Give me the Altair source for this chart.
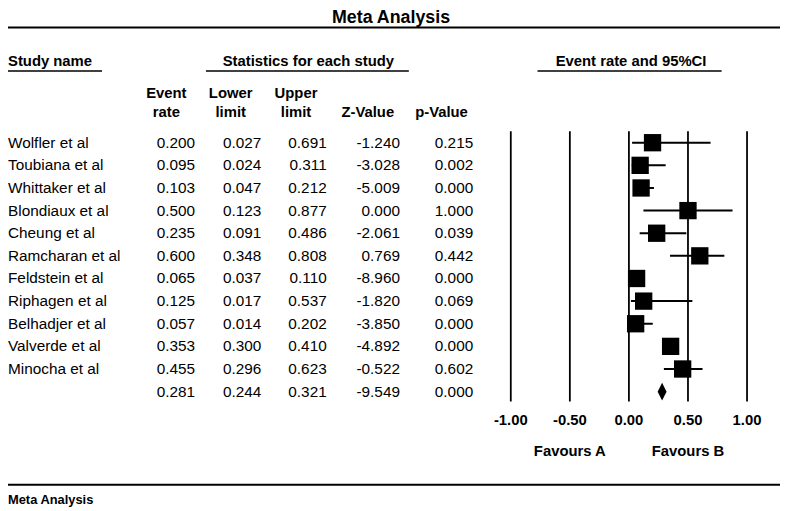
import altair as alt
import pandas as pd

# ---------------- data ----------------
studies = ["Wolfler et al", "Toubiana et al", "Whittaker et al", "Blondiaux et al",
           "Cheung et al", "Ramcharan et al", "Feldstein et al", "Riphagen et al",
           "Belhadjer et al", "Valverde et al", "Minocha et al"]
event_rate = [0.200, 0.095, 0.103, 0.500, 0.235, 0.600, 0.065, 0.125, 0.057, 0.353, 0.455]
lower_limit = [0.027, 0.024, 0.047, 0.123, 0.091, 0.348, 0.037, 0.017, 0.014, 0.300, 0.296]
upper_limit = [0.691, 0.311, 0.212, 0.877, 0.486, 0.808, 0.110, 0.537, 0.202, 0.410, 0.623]
z_value = [-1.240, -3.028, -5.009, 0.000, -2.061, 0.769, -8.960, -1.820, -3.850, -4.892, -0.522]
p_value = [0.215, 0.002, 0.000, 1.000, 0.039, 0.442, 0.000, 0.069, 0.000, 0.000, 0.602]

summary_rate = 0.281
summary_lower = 0.244
summary_upper = 0.321
summary_z = -9.549
summary_p = 0.000

tick_values = [-1.0, -0.5, 0.0, 0.5, 1.0]
favours_labels = ["Favours A", "Favours B"]
favours_at = [-0.5, 0.5]

title_text = "Meta Analysis"
footer_text = "Meta Analysis"
group_headers = ["Study name", "Statistics for each study", "Event rate and 95%CI"]
col_headers_line1 = ["Event", "Lower", "Upper", "", ""]
col_headers_line2 = ["rate", "limit", "limit", "Z-Value", "p-Value"]

# ---------------- tables ----------------
n = len(studies)
table = pd.DataFrame({
    "row": list(range(n + 1)),
    "name": studies + [""],
    "rate": event_rate + [summary_rate],
    "lower": lower_limit + [summary_lower],
    "upper": upper_limit + [summary_upper],
    "z": z_value + [summary_z],
    "p": p_value + [summary_p],
})
for c in ["rate", "lower", "upper", "z", "p"]:
    table[c + "_s"] = [f"{v:.3f}" for v in table[c]]
study_df = table.iloc[:n]
summary_df = table.iloc[n:]

ticks_df = pd.DataFrame({"t": tick_values, "lab": [f"{v:.2f}" for v in tick_values]})
fav_df = pd.DataFrame({"t": favours_at, "lab": favours_labels})
one = pd.DataFrame({"k": [0]})

FONT = "Liberation Sans, Arial, Helvetica, sans-serif"
XS = alt.Scale(domain=[-1, 1], range=[508, 746.7])
YS = alt.Scale(domain=[0, 11], range=[133.5, 385.0])
Y = alt.Y("row:Q", scale=YS, axis=None)

# ---------------- forest plot ----------------
grid = alt.Chart(ticks_df).mark_rule(color="black", strokeWidth=1.8).encode(
    x=alt.X("t:Q", scale=XS, axis=None), y=alt.value(122), y2=alt.value(395))
tick_text = alt.Chart(ticks_df).mark_text(font=FONT, fontSize=15, fontWeight="bold",
                                          baseline="middle", align="center", color="black").encode(
    x=alt.X("t:Q", scale=XS, axis=None), y=alt.value(414), text="lab:N")
fav_text = alt.Chart(fav_df).mark_text(font=FONT, fontSize=15, fontWeight="bold",
                                       baseline="middle", align="center", color="black").encode(
    x=alt.X("t:Q", scale=XS, axis=None), y=alt.value(445), text="lab:N")
whisk = alt.Chart(study_df).mark_rule(color="black", strokeWidth=2).encode(
    x=alt.X("lower:Q", scale=XS, axis=None), x2="upper:Q", y=Y)
squares = alt.Chart(study_df).mark_square(size=306, color="black", opacity=1).encode(
    x=alt.X("rate:Q", scale=XS, axis=None), y=Y)
diamond = alt.Chart(summary_df).mark_point(shape="M0,-1L0.5,0L0,1L-0.5,0Z", size=324,
                                           filled=True, color="black", opacity=1).encode(
    x=alt.X("rate:Q", scale=XS, axis=None), y=Y)

# ---------------- table text ----------------
def col_text(field, xpos, align="right"):
    return alt.Chart(table).mark_text(font=FONT, fontSize=15.5, baseline="middle",
                                      align=align, color="black").encode(
        x=alt.value(xpos), y=Y, text=f"{field}:N")

names = col_text("name", 0, "left")
c_rate = col_text("rate_s", 189)
c_low = col_text("lower_s", 256)
c_up = col_text("upper_s", 322)
c_z = col_text("z_s", 396)
c_p = col_text("p_s", 470)

# ---------------- headers ----------------
def label(txt, x, y, size=15, align="center", weight="bold"):
    return alt.Chart(one).mark_text(font=FONT, fontSize=size, fontWeight=weight,
                                    baseline="middle", align=align, color="black").encode(
        x=alt.value(x), y=alt.value(y), text=alt.value(txt))

def hline(x1, x2, y, w):
    return alt.Chart(one).mark_rule(color="black", strokeWidth=w).encode(
        x=alt.value(x1), x2=alt.value(x2), y=alt.value(y))

title = alt.Chart(one).mark_text(font=FONT, fontSize=18, fontWeight="bold", baseline="top",
                                 align="center", color="black").encode(
    x=alt.value(387), y=alt.value(-1), text=alt.value(title_text))
footer = label(footer_text, 0, 495, size=13, align="left")

head_x = [160, 225, 291, 363.5, 438]
headers = [label(group_headers[0], 0, 51, align="left"),
           label(group_headers[1], 303.5, 51),
           label(group_headers[2], 629.5, 51)]
for hx, l1, l2 in zip(head_x, col_headers_line1, col_headers_line2):
    if l1:
        headers.append(label(l1, hx, 83))
    headers.append(label(l2, hx, 103))

lines = [hline(0, 780, 17, 2), hline(0, 95, 61, 1.5), hline(200, 405, 61, 1.5),
         hline(535, 721, 61, 1.5), hline(0, 780, 479, 2)]

chart = alt.layer(
    grid, whisk, squares, diamond, tick_text, fav_text,
    names, c_rate, c_low, c_up, c_z, c_p,
    title, footer, *headers, *lines
).properties(
    width=780, height=503, padding=0,
    autosize=alt.AutoSizeParams(type="none"),
    background="white",
).configure_view(strokeWidth=0)

chart.save("out.html", embed_options={"renderer": "svg", "actions": False})
